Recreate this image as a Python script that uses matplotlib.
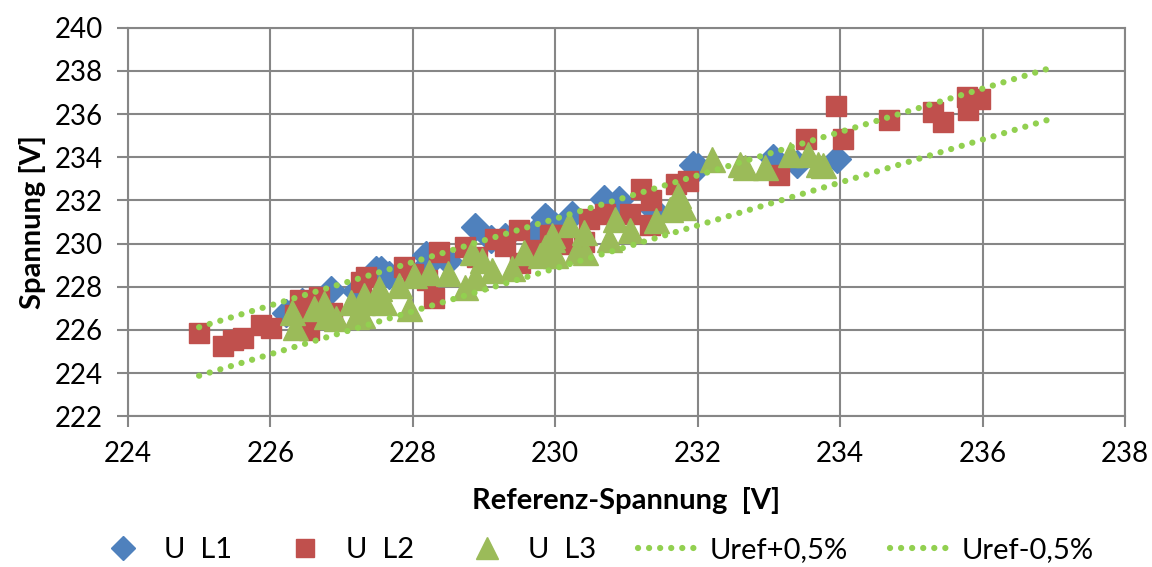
import matplotlib.pyplot as plt
import numpy as np

plt.rcParams['font.family'] = ['Lato', 'DejaVu Sans']

# U L1 (Referenz, gemessen)
l1_x = [226.22, 226.45, 226.85, 227.2, 227.48, 227.55, 227.67, 228.18, 228.2, 228.5,
        228.88, 229.1, 229.3, 229.7, 229.88, 229.86, 230.0, 230.23, 230.68, 230.89,
        231.38, 231.94, 232.0, 233.06, 233.4, 233.96]
l1_y = [226.77, 227.3, 227.85, 227.8, 228.77, 228.77, 228.54, 229.46, 229.0, 229.2,
        230.77, 230.2, 230.31, 230.5, 231.15, 231.23, 230.8, 231.31, 232.08, 232.0,
        231.54, 233.62, 233.54, 233.95, 233.69, 233.92]

# U L2
l2_x = [225.0, 225.33, 225.47, 225.61, 225.87, 226.01, 226.34, 226.41, 226.55, 226.69,
        226.87, 227.27, 227.34, 227.39, 227.88, 228.0, 228.3, 228.37, 228.2, 228.74,
        228.9, 229.16, 229.3, 229.49, 229.51, 229.72, 229.93, 229.98, 230.09, 230.4,
        230.47, 230.7, 231.05, 231.21, 231.33, 231.35, 231.7, 231.86, 233.14, 233.52,
        233.94, 234.04, 234.69, 235.31, 235.44, 235.78, 235.8, 235.97]
l2_y = [225.85, 225.23, 225.54, 225.62, 226.23, 226.08, 226.69, 227.39, 226.0, 227.54,
        226.77, 228.23, 228.46, 227.31, 228.92, 228.6, 227.46, 229.62, 228.3, 229.85,
        229.4, 230.23, 229.9, 230.62, 229.08, 229.69, 230.39, 230.39, 230.0, 230.08,
        231.15, 231.38, 231.38, 232.54, 230.85, 232.0, 232.77, 232.92, 233.19, 234.85,
        236.39, 234.85, 235.74, 236.11, 235.62, 236.77, 236.2, 236.69]

# U L3
l3_x = [226.31, 226.34, 226.62, 226.76, 226.78, 226.92, 227.13, 227.2, 227.29, 227.29,
        227.32, 227.5, 227.53, 227.6, 227.81, 227.95, 228.02, 228.23, 228.49, 228.74,
        228.83, 228.88, 228.97, 229.11, 229.4, 229.56, 229.79, 229.86, 229.95, 229.95,
        230.0, 230.19, 230.3, 230.4, 230.42, 230.75, 230.84, 231.05, 231.42, 231.61,
        231.73, 231.8, 232.2, 232.59, 232.66, 232.94, 233.29, 233.55, 233.69, 233.76]
l3_y = [226.85, 226.15, 227.0, 227.23, 226.62, 226.54, 227.31, 226.62, 227.31, 226.69,
        227.62, 227.46, 227.92, 227.31, 228.08, 227.0, 228.54, 228.69, 228.62, 228.0,
        229.62, 228.46, 229.23, 228.77, 228.85, 229.62, 229.46, 229.85, 230.23, 230.39,
        229.46, 230.92, 229.69, 230.54, 229.62, 230.23, 231.15, 230.62, 231.08, 231.61,
        232.23, 231.69, 233.92, 233.69, 233.54, 233.54, 234.15, 234.15, 233.69, 233.62]

uref = np.array([225.0, 237.0])
tol = 0.005

fig = plt.figure(figsize=(11.52, 5.67), dpi=100)
ax = fig.add_axes([0.111, 0.266, 0.8656, 0.685])

ax.plot(l1_x, l1_y, 'D', color='#4F81BD', markersize=14, markeredgecolor='#4F81BD', label='U  L1', zorder=3)
ax.plot(l2_x, l2_y, 's', color='#C0504D', markersize=15, markeredgecolor='#C0504D', label='U  L2', zorder=4)
ax.plot(l3_x, l3_y, '^', color='#9BBB59', markersize=18, markeredgecolor='#9BBB59', label='U  L3', zorder=5)
dots = (0, (0.01, 1.76))
ax.plot(uref, uref * (1 + tol), color='#92D050', lw=4.5, ls=dots,
        dash_capstyle='round', label='Uref+0,5%', zorder=6)
ax.plot(uref, uref * (1 - tol), color='#92D050', lw=4.5, ls=dots,
        dash_capstyle='round', label='Uref-0,5%', zorder=6)

ax.set_xlim(224, 238)
ax.set_ylim(222, 240)
ax.set_xticks(np.arange(224, 239, 2))
ax.set_yticks(np.arange(222, 241, 2))
ax.grid(True, color='#868686', lw=1.5)
ax.set_axisbelow(True)
for s in ax.spines.values():
    s.set_color('#868686')
    s.set_linewidth(1.5)
ax.tick_params(direction='out', length=8, width=1.5, color='#868686', labelsize=20, pad=10)

ax.set_xlabel('Referenz-Spannung  [V]', fontsize=21, fontweight='bold', labelpad=14)
ax.set_ylabel('Spannung [V]', fontsize=21, fontweight='bold', labelpad=6)

fig.legend(loc='center', bbox_to_anchor=(0.515, 0.03), ncol=5, frameon=False,
           fontsize=21, handlelength=2.1, columnspacing=1.45, handletextpad=0.35,
           markerscale=0.85)

fig.savefig('out.png', dpi=100)
